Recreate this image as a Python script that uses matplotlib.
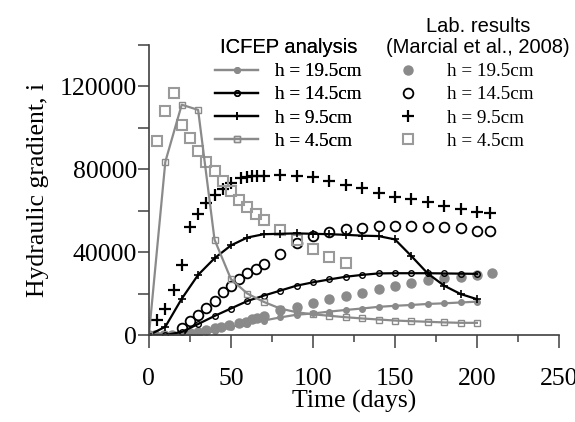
import matplotlib
matplotlib.use("Agg")
import matplotlib.pyplot as plt
from matplotlib.ticker import MultipleLocator

# ICFEP analysis (every 10 days)
icfep_x = [0, 10, 20, 30, 40, 50, 60, 70, 80, 90, 100, 110, 120, 130, 140, 150, 160, 170, 180, 190, 200]
icfep_195 = [0, 0, 0, 500, 1800, 4000, 5500, 7000, 8500, 9800, 10400, 11300, 12100, 12800, 13600,
             14100, 14500, 15000, 15300, 15700, 16100]
icfep_145 = [0, 0, 1500, 5300, 9200, 12800, 16400, 19000, 21400, 23800, 25400, 26800, 28100, 29000,
             29700, 29800, 29800, 29800, 29700, 29600, 29500]
icfep_95 = [0, 4000, 17500, 29000, 37000, 43200, 47000, 48600, 48800, 49000, 48800, 48600, 48300,
            47900, 47700, 46100, 38100, 29700, 23800, 19800, 17300]
icfep_45 = [0, 83500, 111000, 108500, 46000, 27000, 20000, 16000, 12800, 11000, 10000, 9300, 8600,
            8000, 7500, 7000, 6700, 6400, 6100, 5900, 5900]

# Lab. results (Marcial et al., 2008)
lab195_x = [0, 4, 9, 14, 19, 25, 30, 35, 40, 44, 49, 55, 59, 63, 66, 70, 80, 90, 100, 110, 120,
            130, 140, 150, 160, 170, 180, 190, 200, 209]
lab195_y = [0, 0, 0, 0, 0, 1100, 1600, 2400, 3200, 4000, 4800, 5600, 6400, 7600, 8000, 9200, 12000,
            13300, 15600, 17300, 18800, 20500, 22000, 23600, 24900, 26500, 27600, 28100, 28900, 29700]
lab145_x = [20, 25, 30, 35, 40, 45, 50, 55, 60, 65, 70, 80, 90, 100, 110, 120, 130, 140, 150, 160,
            170, 180, 190, 200, 208]
lab145_y = [3200, 6900, 9600, 13200, 16500, 20800, 23700, 26800, 29800, 31800, 34100, 39200, 44200,
            47700, 49800, 50900, 51700, 52500, 52600, 52600, 52200, 51900, 51700, 50300, 50100]
lab95_x = [5, 10, 15, 20, 25, 30, 35, 40, 45, 50, 56, 60, 63, 66, 70, 80, 90, 100, 110, 120, 130,
           140, 150, 160, 170, 180, 190, 200, 208]
lab95_y = [7300, 12800, 21500, 34000, 51900, 58300, 63800, 67500, 70200, 73100, 75500, 76300, 76500,
           76600, 76700, 77000, 76500, 76000, 74200, 72500, 70700, 68600, 66700, 65400, 63900, 62200,
           60700, 59400, 58600]
lab45_x = [5, 10, 15, 20, 25, 30, 35, 40, 45, 50, 55, 60, 65, 70, 80, 90, 100, 110, 120]
lab45_y = [93500, 108000, 116500, 101000, 95000, 88500, 83500, 79000, 74400, 69600, 65000, 61500,
           58300, 55500, 50600, 45800, 41400, 37700, 34900]

labels = ["h = 19.5cm", "h = 14.5cm", "h = 9.5cm", "h = 4.5cm"]

serif = "Liberation Serif"
sans = "Liberation Sans"
grey = "#8a8a8a"
sq_grey = "#9a9a9a"

fig = plt.figure(figsize=(5.75, 4.22), dpi=100)
ax = fig.add_axes([0.259, 0.206, 0.713, 0.6885])

# lab points
l1, = ax.plot(lab195_x, lab195_y, "o", ms=6.5, color=grey, mec=grey, ls="none")
l2, = ax.plot(lab145_x, lab145_y, "o", ms=7, mfc="none", mec="black", mew=1.3, ls="none")
l3, = ax.plot(lab95_x, lab95_y, "+", ms=8, mec="black", mew=1.6, ls="none")
l4, = ax.plot(lab45_x, lab45_y, "s", ms=6.5, mfc="none", mec=sq_grey, mew=1.5, ls="none")

# ICFEP lines
p1, = ax.plot(icfep_x, icfep_195, "-o", color=grey, lw=1.6, ms=4, mfc=grey, mec=grey)
p2, = ax.plot(icfep_x, icfep_145, "-o", color="black", lw=1.6, ms=4, mfc="none", mec="black", mew=1)
p3, = ax.plot(icfep_x, icfep_95, "-+", color="black", lw=1.6, ms=6, mew=1.2)
p4, = ax.plot(icfep_x, icfep_45, "-s", color=grey, lw=1.6, ms=4, mfc="none", mec=grey, mew=1)

ax.set_xlim(0, 250)
ax.set_ylim(0, 140000)
ax.xaxis.set_major_locator(MultipleLocator(50))
ax.xaxis.set_minor_locator(MultipleLocator(25))
ax.yaxis.set_major_locator(MultipleLocator(40000))
ax.yaxis.set_minor_locator(MultipleLocator(20000))

for s in ["top", "right"]:
    ax.spines[s].set_visible(False)
for s in ["left", "bottom"]:
    ax.spines[s].set_color("#404040")
    ax.spines[s].set_linewidth(1.2)
    ax.spines[s].set_clip_on(False)

ax.tick_params(axis="x", which="major", direction="out", length=9.4, width=1.1, color="#404040", pad=14.5)
ax.tick_params(axis="x", which="minor", direction="out", length=5, width=1.1, color="#404040")
ax.tick_params(axis="y", which="both", direction="out", length=8, width=1.1, color="#404040", pad=0.5)
for lab in ax.get_xticklabels() + ax.get_yticklabels():
    lab.set_fontfamily(serif)
    lab.set_fontsize(18.5)

ax.set_xlabel("Time (days)", fontfamily=serif, fontsize=18.5, labelpad=0)
ax.set_ylabel("Hydraulic gradient, i", fontfamily=serif, fontsize=18.5, labelpad=8)

common = dict(loc="lower left", frameon=False, prop={"family": serif, "size": 13.8},
              title_fontproperties={"family": sans, "size": 14.5}, handlelength=2.25,
              handletextpad=0.9, labelspacing=0.3, borderpad=0, borderaxespad=0,
              bbox_transform=fig.transFigure)
leg1 = fig.legend([p1, p2, p3, p4], labels, bbox_to_anchor=(0.374, 0.645),
                  title="ICFEP analysis", **common)
leg2 = fig.legend([l1, l2, l3, l4], labels, bbox_to_anchor=(0.672, 0.645),
                  title="Lab. results\n(Marcial et al., 2008)", alignment="left", **common)
leg2.get_title().set_multialignment("center")
leg2.get_title().set_linespacing(1.15)
fig.add_artist(leg1)

fig.savefig("out.png", dpi=100)
